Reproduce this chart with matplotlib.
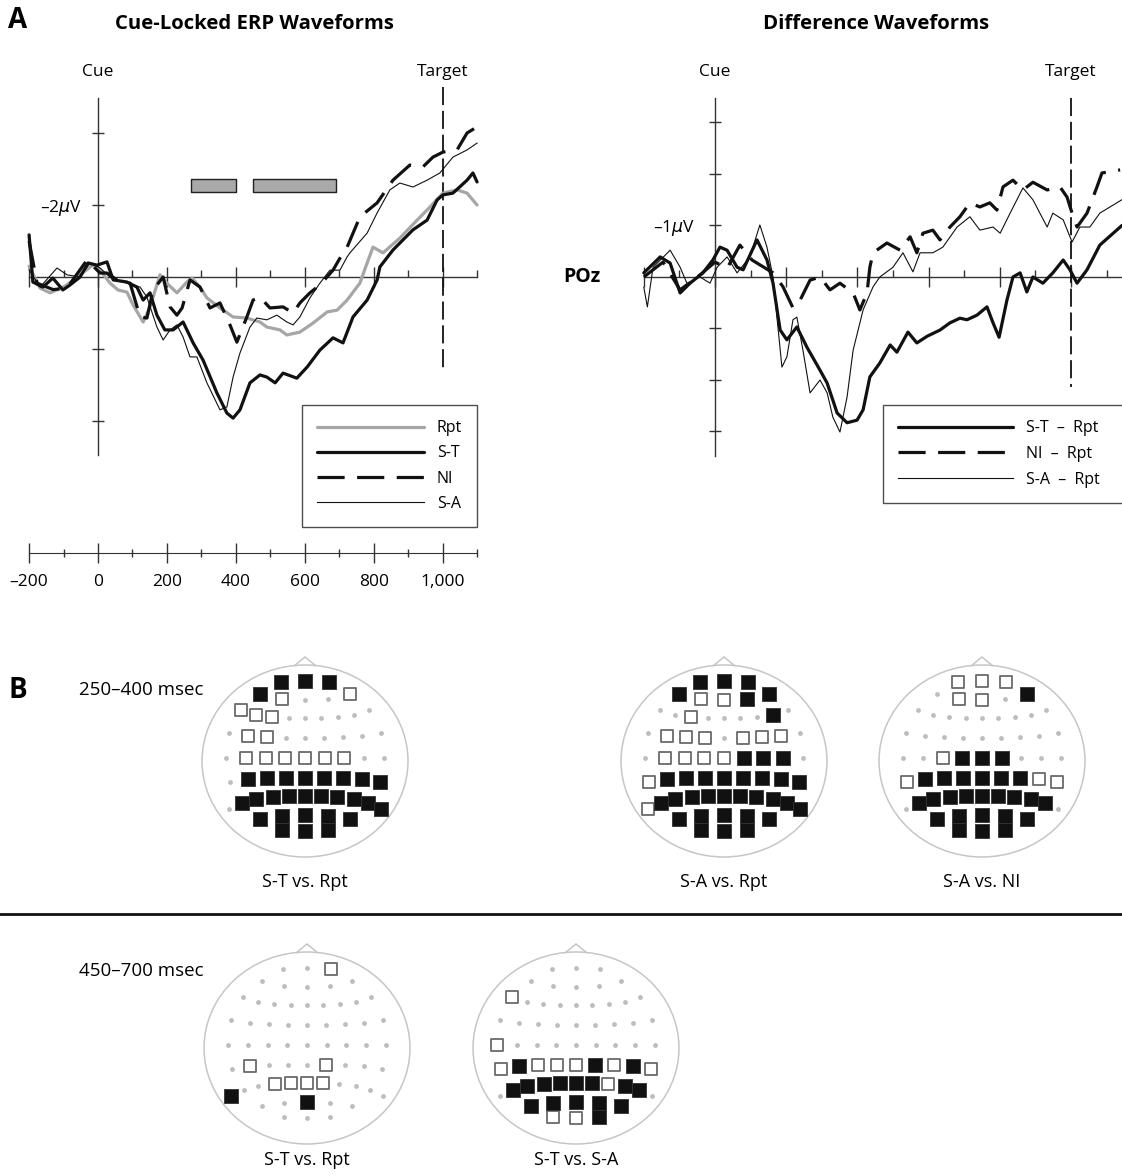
import matplotlib
matplotlib.use('Agg')
import matplotlib.pyplot as plt
from matplotlib.patches import Ellipse, Polygon
from matplotlib.lines import Line2D

plt.rcParams['font.family'] = ['Open Sans', 'DejaVu Sans']
plt.rcParams['mathtext.fontset'] = 'dejavusans'

# ---------------------------------------------------------------- data
# Cue-locked ERPs at POz (ms, microvolts; negative plotted upward)
RPT_T = [-200, -168, -139, -95, -52, -15, 6, 35, 58, 84, 102, 131, 151, 180, 200, 229, 258, 273, 296, 316,
         354, 392, 432, 470, 490, 528, 548, 586, 624, 665, 694, 723, 760, 781, 798, 827, 876, 926, 963, 1001,
         1042, 1071, 1100]
RPT_V = [-0.3, 0.31, 0.44, 0.25, -0.06, -0.33, -0.19, 0.17, 0.36, 0.42, 0.78, 1.25, 0.83, -0.06, 0.17, 0.44,
         0.14, 0.03, 0.28, 0.58, 0.86, 1.11, 1.14, 1.25, 1.39, 1.47, 1.61, 1.53, 1.28, 0.97, 0.92, 0.64, 0.17,
         -0.39, -0.83, -0.67, -1.08, -1.58, -1.94, -2.33, -2.42, -2.33, -2.0]

ST_T = [-200, -189, -160, -131, -102, -81, -52, -29, -3, 26, 44, 84, 113, 131, 151, 171, 194, 218, 247, 276,
        305, 345, 374, 392, 412, 441, 470, 490, 514, 537, 577, 607, 644, 682, 711, 740, 781, 810, 818, 856,
        914, 955, 984, 1001, 1030, 1071, 1088, 1100]
ST_V = [-1.17, 0.14, 0.28, 0.03, 0.36, 0.22, 0.0, -0.39, -0.33, -0.42, 0.08, 0.14, 0.28, 0.64, 0.44, 1.06,
        1.47, 1.47, 1.25, 1.83, 2.31, 3.22, 3.78, 3.92, 3.69, 2.94, 2.72, 2.78, 2.94, 2.67, 2.81, 2.5, 2.03,
        1.69, 1.83, 1.11, 0.64, 0.08, -0.28, -0.75, -1.31, -1.58, -2.14, -2.28, -2.33, -2.69, -2.89, -2.64]

NI_T = [-200, -177, -130, -90, -32, 6, 26, 55, 93, 122, 142, 160, 189, 209, 229, 244, 267, 296, 325, 354,
        383, 403, 432, 450, 470, 499, 537, 566, 586, 615, 644, 682, 711, 723, 760, 810, 856, 905, 943, 972,
        1001, 1042, 1071, 1100]
NI_V = [-1.0, 0.17, 0.35, 0.31, -0.47, -0.11, -0.11, 0.08, 0.17, 1.11, 1.14, 0.36, 0.0, 0.83, 1.06, 0.86,
        0.08, 0.28, 0.86, 0.72, 1.33, 1.81, 1.11, 0.64, 0.56, 0.86, 0.83, 1.0, 0.72, 0.44, 0.22, -0.19, -0.67,
        -0.83, -1.67, -2.06, -2.69, -3.11, -3.06, -3.33, -3.47, -3.53, -4.0, -4.17]

SA_T = [-200, -168, -119, -90, -52, -23, 6, 44, 84, 122, 142, 171, 189, 209, 229, 247, 267, 287, 316, 354,
        374, 392, 412, 441, 461, 490, 519, 548, 566, 586, 615, 644, 673, 702, 723, 731, 781, 810, 847, 876,
        914, 955, 992, 1030, 1071, 1100]
SA_V = [-0.2, 0.28, -0.25, -0.06, 0.0, -0.39, -0.25, 0.08, 0.17, 0.28, 0.56, 1.39, 1.75, 1.47, 1.33, 1.67,
        2.22, 2.22, 2.94, 3.69, 3.61, 2.78, 2.11, 1.39, 1.14, 1.19, 1.06, 1.25, 1.33, 1.11, 0.58, 0.17, -0.19,
        -0.19, -0.56, -0.67, -1.22, -1.78, -2.42, -2.61, -2.5, -2.69, -2.89, -3.33, -3.53, -3.72]

# Difference waves at POz
DST_T = [-200, -154, -126, -98, -70, -34, -6, 14, 34, 62, 79, 118, 146, 163, 183, 202, 230, 258, 295, 315,
         343, 371, 399, 416, 435, 463, 492, 511, 542, 567, 596, 632, 660, 688, 708, 736, 764, 781, 798, 820,
         837, 857, 876, 893, 921, 949, 978, 997, 1017, 1045, 1081, 1143]
DST_V = [-0.08, -0.39, -0.27, 0.31, 0.12, -0.08, -0.33, -0.58, -0.52, -0.19, -0.14, -0.72, -0.33, 0.12, 1.03,
         1.22, 0.97, 1.36, 1.81, 2.06, 2.64, 2.83, 2.78, 2.58, 1.94, 1.67, 1.32, 1.46, 1.07, 1.28, 1.15, 1.03,
         0.89, 0.80, 0.83, 0.74, 0.58, 0.89, 1.17, 0.45, 0.0, -0.08, 0.29, 0.0, 0.12, -0.08, -0.33, -0.14, 0.12,
         -0.14, -0.62, -1.0]

DNI_T = [-200, -146, -98, -42, 0, 34, 70, 104, 163, 191, 219, 239, 267, 295, 323, 351, 388, 407, 427, 435,
         444, 483, 520, 548, 567, 584, 612, 632, 660, 688, 716, 744, 772, 792, 809, 837, 865, 893, 933, 969,
         989, 1003, 1017, 1045, 1073, 1087, 1138]
DNI_V = [0.0, -0.29, 0.25, -0.04, -0.29, -0.17, -0.62, -0.33, -0.08, 0.19, 0.60, 0.45, 0.06, 0.0, 0.25, 0.12,
         0.31, 0.64, 0.31, -0.19, -0.47, -0.66, -0.52, -0.78, -0.47, -0.85, -0.91, -0.72, -0.97, -1.17, -1.44,
         -1.36, -1.44, -1.30, -1.75, -1.88, -1.69, -1.84, -1.69, -1.75, -1.55, -1.24, -0.97, -1.24, -1.75,
         -2.02, -2.08]

DSA_T = [-200, -190, -174, -126, -98, -79, -42, -14, 6, 34, 62, 98, 126, 146, 163, 174, 188, 202, 219, 230,
         247, 267, 295, 315, 331, 351, 371, 388, 416, 444, 463, 500, 528, 556, 576, 612, 640, 680, 716, 744,
         781, 801, 829, 865, 893, 933, 949, 978, 1003, 1025, 1053, 1081, 1143]
DSA_V = [0.2, 0.58, -0.19, -0.52, -0.19, 0.12, 0.0, 0.12, -0.19, -0.39, -0.08, -0.39, -1.01, -0.58, 0.0, 0.78,
         1.75, 1.55, 0.83, 0.78, 1.42, 2.25, 2.0, 2.25, 2.72, 3.01, 2.33, 1.42, 0.64, 0.19, 0.0, -0.19, -0.47,
         -0.10, -0.47, -0.47, -0.58, -0.97, -1.17, -0.91, -0.97, -0.85, -1.24, -1.73, -1.50, -0.97, -1.24,
         -1.11, -0.68, -0.97, -0.97, -1.24, -1.50]

TARGET_MS = 1000
SIG_WINDOWS = [(270, 400), (450, 690)]          # ms, analysis windows shown as bars

TIME_MAJOR = [-200, 0, 200, 400, 600, 800, 1000]
TIME_MINOR = [-100, 100, 300, 500, 700, 900, 1100]
TIME_LABELS = ['\u2013200', '0', '200', '400', '600', '800', '1,000']

LEFT_YTICKS = [-4, -2, 2, 4]
LEFT_YLABELS = ['', '\u20132$\\mu$V', '', '']
RIGHT_YTICKS = [-3, -2, -1, 1, 2, 3]
RIGHT_YLABELS = ['', '', '\u20131$\\mu$V', '', '', '']

LEFT_LEGEND = ['Rpt', 'S-T', 'NI', 'S-A']
RIGHT_LEGEND = ['S-T  \u2013  Rpt', 'NI  \u2013  Rpt', 'S-A  \u2013  Rpt']

# Significant electrodes per contrast (filled / open squares)
MAP_TITLES = ['S-T vs. Rpt', 'S-A vs. Rpt', 'S-A vs. NI', 'S-T vs. Rpt', 'S-T vs. S-A']
MAP_FILLED = [
    ['Fp1', 'Fpz', 'Fp2', 'AF7', 'CP5', 'CP3', 'CP1', 'CPz', 'CP2', 'CP4', 'CP6', 'TP8', 'P7', 'P5', 'P3',
     'P1', 'Pz', 'P2', 'P4', 'P6', 'P8', 'P10', 'PO7', 'PO3', 'POz', 'PO4', 'PO8', 'O1', 'Oz', 'O2'],
    ['Fp1', 'Fpz', 'Fp2', 'AF7', 'AF4', 'AF8', 'F6', 'C2', 'C4', 'C6', 'CP5', 'CP3', 'CP1', 'CPz', 'CP2',
     'CP4', 'CP6', 'TP8', 'P7', 'P5', 'P3', 'P1', 'Pz', 'P2', 'P4', 'P6', 'P8', 'P10', 'PO7', 'PO3', 'POz',
     'PO4', 'PO8', 'O1', 'Oz', 'O2'],
    ['AF8', 'C1', 'Cz', 'C2', 'CP5', 'CP3', 'CP1', 'CPz', 'CP2', 'CP4', 'P7', 'P5', 'P3', 'P1', 'Pz', 'P2',
     'P4', 'P6', 'P8', 'PO7', 'PO3', 'POz', 'PO4', 'PO8', 'O1', 'Oz', 'O2'],
    ['P9', 'POz'],
    ['CP5', 'CP2', 'CP6', 'P7', 'P5', 'P3', 'P1', 'Pz', 'P2', 'P6', 'P8', 'PO7', 'PO3', 'POz', 'PO4', 'PO8',
     'O2'],
]
MAP_OPEN = [
    ['AF3', 'AF8', 'F7', 'F5', 'F3', 'FC5', 'FC3', 'C5', 'C3', 'C1', 'Cz', 'C2', 'C4'],
    ['AF3', 'AFz', 'F3', 'FC5', 'FC3', 'FC1', 'FC2', 'FC4', 'FC6', 'C5', 'C3', 'C1', 'Cz', 'TP7', 'P9'],
    ['Fp1', 'Fpz', 'Fp2', 'AF3', 'AFz', 'C3', 'TP7', 'CP6', 'TP8'],
    ['Fp2', 'CP5', 'CP2', 'P3', 'P1', 'Pz', 'P2'],
    ['F7', 'T7', 'TP7', 'CP3', 'CP1', 'CPz', 'CP4', 'TP8', 'P4', 'O1', 'Oz'],
]

# ---------------------------------------------------------------- layout
W, H = 1122, 1176
fig = plt.figure(figsize=(W / 100, H / 100), dpi=100)

# electrode montage, offsets in px from the head centre
MONTAGE = {
    'Fp1': (-24, -79), 'Fpz': (0, -80), 'Fp2': (24, -79),
    'AF7': (-45, -67), 'AF3': (-23, -62), 'AFz': (0, -61), 'AF4': (23, -62), 'AF8': (45, -67),
    'F7': (-64, -51), 'F5': (-49, -46), 'F3': (-33, -44), 'F1': (-16, -43), 'Fz': (0, -43),
    'F2': (16, -43), 'F4': (33, -44), 'F6': (49, -46), 'F8': (64, -51),
    'FT7': (-76, -28), 'FC5': (-57, -25), 'FC3': (-38, -24), 'FC1': (-19, -23), 'FCz': (0, -23),
    'FC2': (19, -23), 'FC4': (38, -24), 'FC6': (57, -25), 'FT8': (76, -28),
    'T7': (-79, -3), 'C5': (-59, -3), 'C3': (-39, -3), 'C1': (-20, -3), 'Cz': (0, -3),
    'C2': (20, -3), 'C4': (39, -3), 'C6': (59, -3), 'T8': (79, -3),
    'TP7': (-75, 21), 'CP5': (-57, 18), 'CP3': (-38, 17), 'CP1': (-19, 17), 'CPz': (0, 17),
    'CP2': (19, 17), 'CP4': (38, 17), 'CP6': (57, 18), 'TP8': (75, 21),
    'P9': (-76, 48), 'P7': (-63, 42), 'P5': (-49, 38), 'P3': (-32, 36), 'P1': (-16, 35), 'Pz': (0, 35),
    'P2': (16, 35), 'P4': (32, 36), 'P6': (49, 38), 'P8': (63, 42), 'P10': (76, 48),
    'PO7': (-45, 58), 'PO3': (-23, 55), 'POz': (0, 54), 'PO4': (23, 55), 'PO8': (45, 58),
    'O1': (-23, 69), 'Oz': (0, 70), 'O2': (23, 69),
}
MAP_CENTERS = [(305, 761), (724, 761), (982, 761), (307, 1048), (576, 1048)]
MAP_LABEL_Y = [882, 882, 882, 1160, 1160]


def axes_px(x0, x1, y0, y1, **kw):
    return fig.add_axes([x0 / W, 1 - y1 / H, (x1 - x0) / W, (y1 - y0) / H], **kw)


AX_COL = '#333333'


# left panel: 0 ms at x=98 px, 0.3446 px/ms; 0 uV at y=277 px, 36 px/uV
def lx(t): return 98 + t * 0.3446
def ly(v): return 277 + v * 36


# right panel: 0 ms at x=715 px, 0.356 px/ms; 51.5 px/uV
def rx(t): return 715 + t * 0.356
def ry(v): return 277 + v * 51.5


overlay = fig.add_axes([0, 0, 1, 1], zorder=0)
overlay.set_xlim(0, W)
overlay.set_ylim(H, 0)
overlay.axis('off')


def wave_axes(fx, fy, t0, t1, v0, v1, tbounds, vbounds, yticks, ylabels, ypad):
    ax = axes_px(fx(t0), fx(t1), fy(v0), fy(v1), zorder=2)
    ax.set_xlim(t0, t1)
    ax.set_ylim(v1, v0)
    ax.set_facecolor('none')
    for s in ('top', 'right'):
        ax.spines[s].set_visible(False)
    for s in ('left', 'bottom'):
        ax.spines[s].set_position(('data', 0))
        ax.spines[s].set_color(AX_COL)
        ax.spines[s].set_linewidth(1.0)
        ax.spines[s].set_zorder(1)
    ax.spines['bottom'].set_bounds(*tbounds)
    ax.spines['left'].set_bounds(*vbounds)
    ax.set_xticks(TIME_MAJOR)
    ax.set_xticks(TIME_MINOR, minor=True)
    ax.tick_params(axis='x', which='major', direction='inout', length=14, width=1.0,
                   color=AX_COL, labelbottom=False)
    ax.tick_params(axis='x', which='minor', direction='in', length=5, width=1.0, color=AX_COL)
    ax.set_yticks(yticks)
    ax.set_yticklabels(ylabels)
    ax.tick_params(axis='y', which='major', direction='inout', length=9, width=1.0, color=AX_COL,
                   labelsize=12.5, pad=ypad)
    ax.tick_params(axis='y', which='minor', left=False)
    return ax


# ---------------------------------------------------------------- panel A, left
ax1 = wave_axes(lx, ly, -210, 1110, -5.4, 5.1, (-200, 1100), (-4.97, 4.94),
                LEFT_YTICKS, LEFT_YLABELS, 7)

GRAY = '#a6a6a6'
BLACK = '#111111'
NI_DASH = (0, (8.5, 3.9))
st_rpt = dict(color=GRAY, lw=2.3, solid_joinstyle='round', solid_capstyle='round')
st_st = dict(color=BLACK, lw=2.3, solid_joinstyle='round', solid_capstyle='round')
st_ni = dict(color=BLACK, lw=2.3, linestyle=NI_DASH, dash_joinstyle='round')
st_sa = dict(color=BLACK, lw=0.8, solid_joinstyle='round')

ax1.plot(RPT_T, RPT_V, **st_rpt, zorder=3)
ax1.plot(SA_T, SA_V, **st_sa, zorder=4)
ax1.plot(NI_T, NI_V, **st_ni, zorder=5)
ax1.plot(ST_T, ST_V, **st_st, zorder=6)

ax1.broken_barh([(a, b - a) for a, b in SIG_WINDOWS], (-2.72, 0.36),
                facecolor='#a9a9a9', edgecolor='#222222', lw=1.0, zorder=3)
ax1.vlines(TARGET_MS, -5.28, 2.67, colors=BLACK, lw=1.3, linestyles=[(0, (10, 3.2))], zorder=2)

leg1 = ax1.legend(
    [Line2D([], [], **st_rpt), Line2D([], [], **st_st), Line2D([], [], **st_ni), Line2D([], [], **st_sa)],
    LEFT_LEGEND,
    loc='upper left', bbox_to_anchor=(302 / W, 1 - 405 / H), bbox_transform=fig.transFigure,
    borderaxespad=0, fontsize=11.5, handlelength=6.7, handletextpad=0.8, labelspacing=0.58,
    borderpad=0.95, fancybox=False, frameon=True, edgecolor='#222222')
leg1.get_frame().set_linewidth(1.0)

# separate time scale under the left panel
ax3 = axes_px(lx(-210), lx(1110), 520, 553, zorder=2)
ax3.set_xlim(-210, 1110)
ax3.set_ylim(0, 1)
ax3.set_facecolor('none')
for s in ('top', 'right', 'left'):
    ax3.spines[s].set_visible(False)
ax3.spines['bottom'].set_bounds(-200, 1100)
ax3.spines['bottom'].set_color(AX_COL)
ax3.set_yticks([])
ax3.set_xticks(TIME_MAJOR)
ax3.set_xticklabels(TIME_LABELS)
ax3.set_xticks(TIME_MINOR, minor=True)
ax3.tick_params(axis='x', which='major', direction='inout', length=14, width=1.0, color=AX_COL,
                labelsize=12.5, pad=8)
ax3.tick_params(axis='x', which='minor', direction='inout', length=6, width=1.0, color=AX_COL)

# ---------------------------------------------------------------- panel A, right
ax2 = wave_axes(rx, ry, -210, 1200, -3.7, 3.6, (-200, 1200), (-3.48, 3.48),
                RIGHT_YTICKS, RIGHT_YLABELS, 10)
ax2.plot(DSA_T, DSA_V, **st_sa, zorder=4)
ax2.plot(DNI_T, DNI_V, **st_ni, zorder=5)
ax2.plot(DST_T, DST_V, **st_st, zorder=6)
ax2.vlines(TARGET_MS, -3.48, 2.14, colors=BLACK, lw=1.3, linestyles=[(0, (10, 3.2))], zorder=2)

# the right-hand legend box runs past the figure edge
leg2 = ax2.legend(
    [Line2D([], [], **st_st), Line2D([], [], **st_ni), Line2D([], [], **st_sa)],
    RIGHT_LEGEND,
    loc='upper left', bbox_to_anchor=(883 / W, 1 - 501 / H, (1145 - 883) / W, 96 / H),
    bbox_transform=fig.transFigure, mode='expand',
    borderaxespad=0, fontsize=11.5, handlelength=7.2, handletextpad=0.8, labelspacing=0.62,
    borderpad=0.95, fancybox=False, frameon=True, edgecolor='#222222')
leg2.get_frame().set_linewidth(1.0)

# ---------------------------------------------------------------- panel A texts
overlay.text(18, 21, 'A', fontsize=20, fontweight='bold', ha='center', va='center')
overlay.text(254, 24, 'Cue-Locked ERP Waveforms', fontsize=14.6, fontweight='bold', ha='center', va='center')
overlay.text(876, 24, 'Difference Waveforms', fontsize=14.7, fontweight='bold', ha='center', va='center')
for fx in (lx, rx):
    overlay.text(fx(0), 72, 'Cue', fontsize=12.5, ha='center', va='center')
    overlay.text(fx(TARGET_MS), 72, 'Target', fontsize=12.5, ha='center', va='center')
overlay.text(582, 277, 'POz', fontsize=14, fontweight='bold', ha='center', va='center')

# ---------------------------------------------------------------- panel B
overlay.text(18, 690, 'B', fontsize=20, fontweight='bold', ha='center', va='center')
overlay.text(79, 690, '250\u2013400 msec', fontsize=13.5, ha='left', va='center')
overlay.text(79, 971, '450\u2013700 msec', fontsize=13.5, ha='left', va='center')
overlay.axhline(914, color='#111111', lw=2.0)

HEAD_COL = '#c6c6c6'
for (cx, cy), ty, title, filled, opened in zip(MAP_CENTERS, MAP_LABEL_Y, MAP_TITLES, MAP_FILLED, MAP_OPEN):
    overlay.add_patch(Ellipse((cx, cy), 206, 192, fill=False, ec=HEAD_COL, lw=1.1))
    overlay.add_patch(Polygon([(cx - 11, cy - 95), (cx, cy - 104), (cx + 11, cy - 95)], closed=False,
                              fill=False, ec=HEAD_COL, lw=1.1))
    dots = [n for n in MONTAGE if n not in filled and n not in opened]
    overlay.scatter([cx + MONTAGE[n][0] for n in dots], [cy + MONTAGE[n][1] for n in dots],
                    s=12, color='#bdbdbd', linewidths=0, zorder=3)
    overlay.scatter([cx + MONTAGE[n][0] for n in opened], [cy + MONTAGE[n][1] for n in opened],
                    s=80, marker='s', facecolor='white', edgecolor='#6a6a6a', linewidths=1.3, zorder=4)
    overlay.scatter([cx + MONTAGE[n][0] for n in filled], [cy + MONTAGE[n][1] for n in filled],
                    s=88, marker='s', facecolor='#111111', edgecolor='#333333', linewidths=0.6, zorder=5)
    overlay.text(cx, ty, title, fontsize=13, ha='center', va='center')

fig.savefig('out.png', dpi=100)
